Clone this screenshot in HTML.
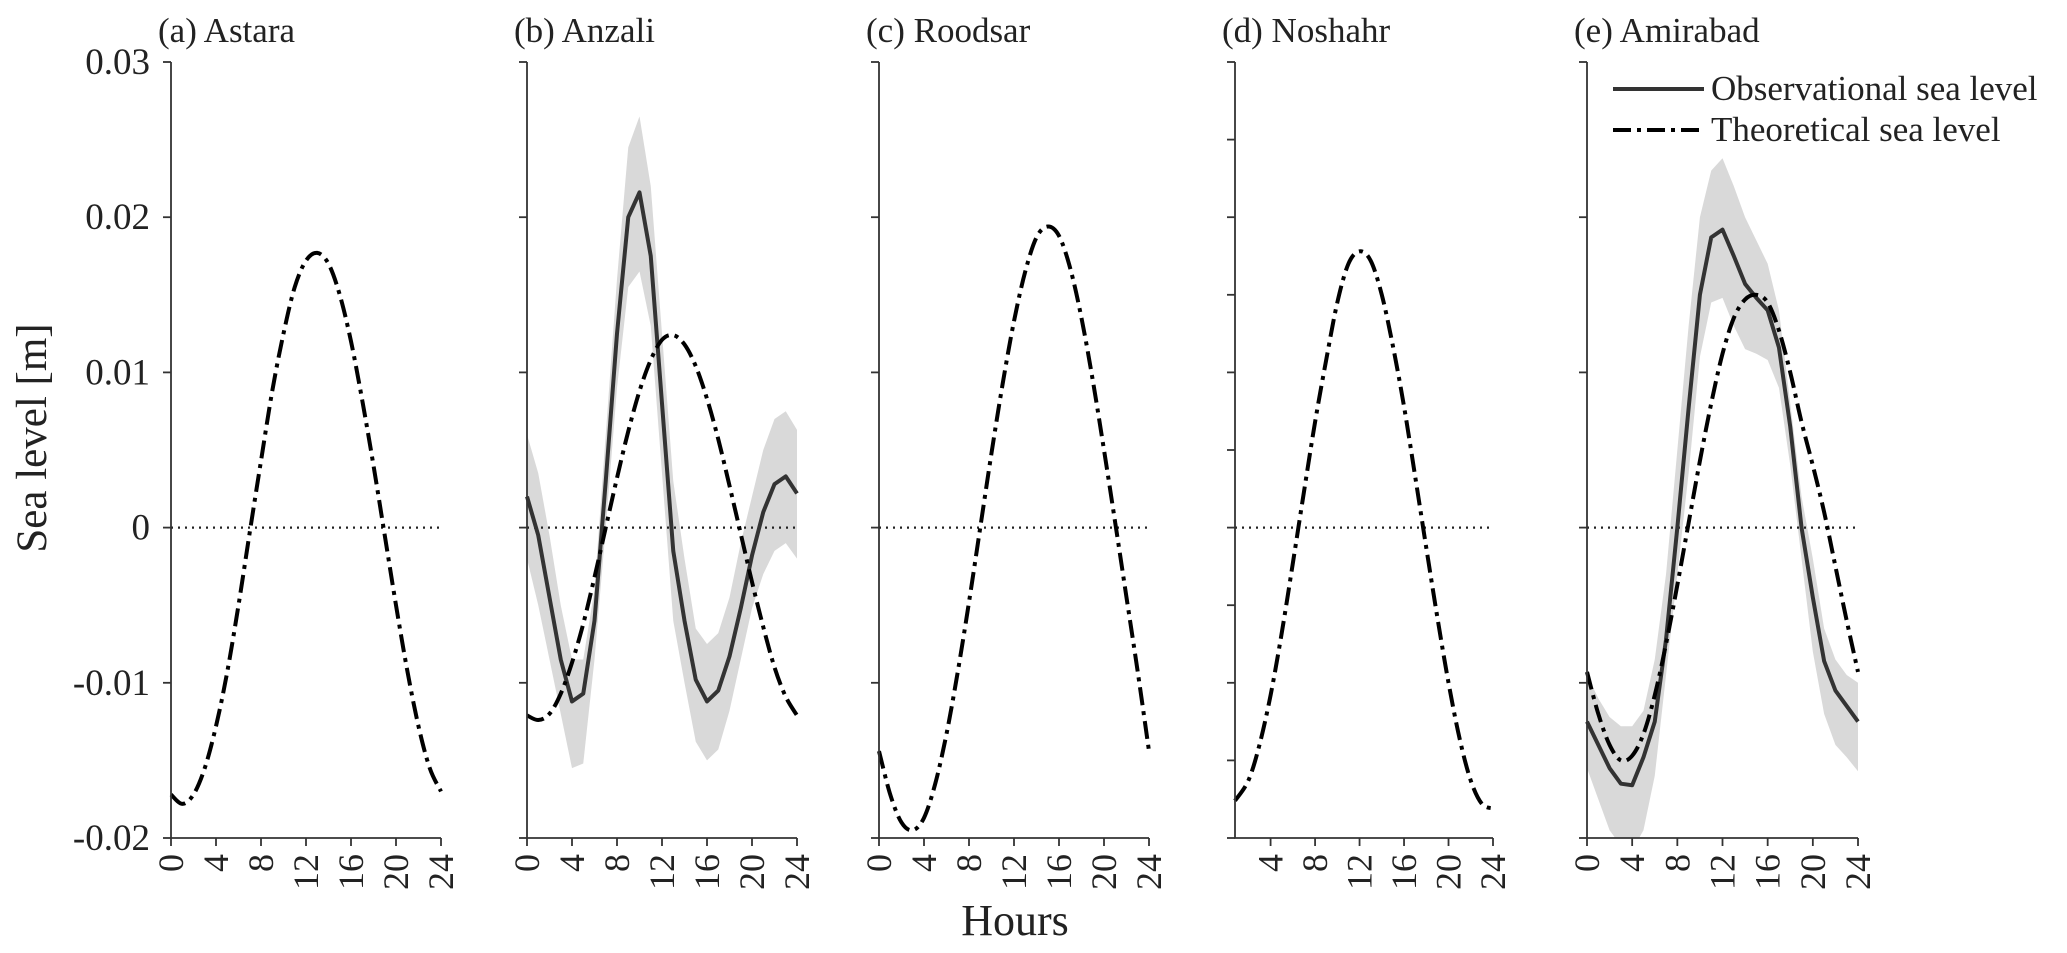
<!DOCTYPE html>
<html><head><meta charset="utf-8">
<style>
html,body{margin:0;padding:0;background:#fff;}
svg{display:block;font-family:"Liberation Serif",serif;}
</style></head>
<body>
<svg id="chart" width="2067" height="953" viewBox="0 0 2067 953" xmlns="http://www.w3.org/2000/svg">
<text x="0" y="0" transform="translate(46,438) rotate(-90)" text-anchor="middle" font-size="43" fill="#222">Sea level [m]</text>
<text x="1015" y="935" text-anchor="middle" font-size="44" fill="#222">Hours</text>
<g>
<line x1="1613" y1="89" x2="1704" y2="89" stroke="#333" stroke-width="4"/>
<text x="1711" y="100" font-size="35" fill="#222">Observational sea level</text>
<line x1="1613" y1="130" x2="1704" y2="130" stroke="#000" stroke-width="4" stroke-dasharray="18 6 4 6"/>
<text x="1711" y="141" font-size="35" fill="#222">Theoretical sea level</text>
</g>
</svg>
<script>
const hours = [0,1,2,3,4,5,6,7,8,9,10,11,12,13,14,15,16,17,18,19,20,21,22,23,24];
const hoursD = [0.8,2,3,4,5,6,7,8,9,10,11,12,13,14,15,16,17,18,19,20,21,22,23,24];
const yTicks = [0.03,0.02,0.01,0,-0.01,-0.02];
const yTickLabels = ["0.03","0.02","0.01","0","-0.01","-0.02"];
const yTicksD = [0.03,0.025,0.02,0.015,0.01,0.005,0,-0.005,-0.01,-0.015,-0.02];
const xTicks = [0,4,8,12,16,20,24];
const xTicksD = [4,8,12,16,20,24];
const titles = ["(a) Astara","(b) Anzali","(c) Roodsar","(d) Noshahr","(e) Amirabad"];
const theoA = [-0.0172,-0.0178,-0.0172,-0.0155,-0.0128,-0.0093,-0.0050,-0.0003,0.0043,0.0088,0.0125,0.0155,0.0172,0.0177,0.0170,0.0150,0.0120,0.0082,0.0040,-0.0005,-0.0050,-0.0092,-0.0128,-0.0155,-0.0170];
const theoB = [-0.0121,-0.0124,-0.0120,-0.0107,-0.0087,-0.0062,-0.0032,0.0000,0.0032,0.0062,0.0088,0.0108,0.0121,0.0124,0.0118,0.0104,0.0083,0.0057,0.0027,-0.0004,-0.0035,-0.0064,-0.0090,-0.0109,-0.0121];
const obsB = [0.002,-0.0005,-0.0045,-0.0085,-0.0112,-0.0107,-0.006,0.003,0.0125,0.0200,0.0216,0.0175,0.0080,-0.0015,-0.0060,-0.0098,-0.0112,-0.0105,-0.0083,-0.0052,-0.0018,0.0010,0.0028,0.0033,0.0022];
const upperB = [0.006,0.0035,-0.0005,-0.005,-0.0085,-0.0085,-0.004,0.006,0.016,0.0245,0.0265,0.022,0.0125,0.003,-0.002,-0.0065,-0.0075,-0.0068,-0.0045,-0.001,0.002,0.005,0.007,0.0075,0.0063];
const lowerB = [-0.002,-0.005,-0.0085,-0.012,-0.0155,-0.0152,-0.0085,0.0,0.009,0.0155,0.0165,0.013,0.0035,-0.006,-0.010,-0.0138,-0.015,-0.0143,-0.0118,-0.0085,-0.0052,-0.003,-0.0015,-0.001,-0.002];
const theoC = [-0.0144,-0.0172,-0.0190,-0.0195,-0.0187,-0.0165,-0.0133,-0.0093,-0.0048,0.0000,0.0048,0.0093,0.0133,0.0165,0.0187,0.0194,0.0188,0.0167,0.0135,0.0095,0.0050,0.0003,-0.0045,-0.0093,-0.0144];
const theoD = [-0.0176,-0.0163,-0.0140,-0.0108,-0.0068,-0.0023,0.0023,0.0068,0.0108,0.0145,0.0170,0.0178,0.0172,0.0150,0.0117,0.0078,0.0033,-0.0013,-0.0058,-0.0100,-0.0136,-0.0163,-0.0178,-0.0181];
const theoE = [-0.0093,-0.0120,-0.0140,-0.0150,-0.0147,-0.0133,-0.0108,-0.0075,-0.0037,0.0003,0.0043,0.0080,0.0112,0.0135,0.0147,0.0150,0.0145,0.0127,0.0100,0.0068,0.0040,0.0010,-0.0025,-0.0060,-0.0093];
const obsE = [-0.0125,-0.0140,-0.0155,-0.0165,-0.0166,-0.0148,-0.0125,-0.0072,0.0000,0.0077,0.0150,0.0187,0.0192,0.0175,0.0157,0.0148,0.0140,0.0116,0.0065,0.0000,-0.0045,-0.0086,-0.0105,-0.0115,-0.0125];
const upperE = [-0.0095,-0.0110,-0.0122,-0.0128,-0.0128,-0.0118,-0.0085,-0.0030,0.005,0.013,0.020,0.0230,0.0238,0.022,0.020,0.0185,0.0170,0.0140,0.0080,0.0020,-0.002,-0.0065,-0.0085,-0.0095,-0.0100];
const lowerE = [-0.0155,-0.0175,-0.0195,-0.0205,-0.0208,-0.0195,-0.0160,-0.0095,-0.0030,0.0035,0.0110,0.0145,0.0148,0.0130,0.0115,0.0112,0.0108,0.0090,0.0040,-0.0020,-0.0080,-0.0120,-0.0140,-0.0148,-0.0157];

const NS = "http://www.w3.org/2000/svg";
const svg = document.getElementById("chart");
const yTop = 62, yBot = 838, yMax = 0.03, yMin = -0.02;
const panels = [
 {x0:171,x1:441,xmin:0,theo:theoA,hx:hours,t:0},
 {x0:527,x1:797,xmin:0,theo:theoB,hx:hours,obs:obsB,up:upperB,lo:lowerB,t:1},
 {x0:879,x1:1149,xmin:0,theo:theoC,hx:hours,t:2},
 {x0:1235,x1:1493,xmin:0.8,theo:theoD,hx:hoursD,t:3,d:true},
 {x0:1587,x1:1858,xmin:0,theo:theoE,hx:hours,obs:obsE,up:upperE,lo:lowerE,t:4}
];
function el(tag, attrs, parent){const e=document.createElementNS(NS,tag);for(const k in attrs)e.setAttribute(k,attrs[k]);(parent||svg).appendChild(e);return e;}
function yS(v){return yBot-(v-yMin)/(yMax-yMin)*(yBot-yTop);}
function smooth(pts){let d="M"+pts[0][0]+","+pts[0][1];for(let i=0;i<pts.length-1;i++){const p0=pts[i-1]||pts[i],p1=pts[i],p2=pts[i+1],p3=pts[i+2]||p2;d+=" C"+(p1[0]+(p2[0]-p0[0])/6)+","+(p1[1]+(p2[1]-p0[1])/6)+" "+(p2[0]-(p3[0]-p1[0])/6)+","+(p2[1]-(p3[1]-p1[1])/6)+" "+p2[0]+","+p2[1];}return d;}
panels.forEach((p,pi)=>{
 const xS=h=>p.x0+(h-p.xmin)/(24-p.xmin)*(p.x1-p.x0);
 const g=el("g",{});
 
 
 const clipId="clip"+pi;
 const cp=el("clipPath",{id:clipId},g);el("rect",{x:p.x0,y:yTop,width:p.x1-p.x0+10,height:yBot-yTop},cp);
 const title=el("text",{x:p.x0-13,y:42,"font-size":35,fill:"#222"},g);
 title.textContent=titles[p.t];
 
 
 if(p.up){
  let pts=p.hx.map((h,i)=>xS(h)+","+yS(p.up[i]));
  for(let i=p.hx.length-1;i>=0;i--)pts.push(xS(p.hx[i])+","+yS(p.lo[i]));
  const band=el("polygon",{points:pts.join(" "),fill:"#d9d9d9","clip-path":"url(#"+clipId+")"},g);
  
  
 }
 const zl=el("line",{x1:xS(p.xmin),x2:xS(24),y1:yS(0),y2:yS(0),stroke:"#222","stroke-width":2.2,"stroke-dasharray":"2 5"},g);
 
 
 if(p.obs){
  const ol=el("polyline",{points:p.hx.map((h,i)=>xS(h)+","+yS(p.obs[i])).join(" "),fill:"none",stroke:"#333","stroke-width":4,"stroke-linejoin":"round"},g);
  
  
 }
 const tl=el("path",{d:smooth(p.hx.map((h,i)=>[xS(h),yS(p.theo[i])])),fill:"none",stroke:"#000","stroke-width":4,"stroke-dasharray":"18 6 4 6"},g);
 
 
 const ax=el("path",{d:"M"+p.x0+","+yTop+" V"+yBot+" H"+p.x1,fill:"none",stroke:"#333","stroke-width":1.8},g);
 
 
 (p.d?yTicksD:yTicks).forEach((v,i)=>{
  el("line",{x1:p.x0-8,x2:p.x0,y1:yS(v),y2:yS(v),stroke:"#333","stroke-width":1.8},g);
  if(pi===0){const t=el("text",{x:150,y:yS(v)+12,"text-anchor":"end","font-size":37,fill:"#222"},g);t.textContent=yTickLabels[i];
   
   }
 });
 (p.d?xTicksD:xTicks).forEach(h=>{
  const x=xS(h);
  el("line",{x1:x,x2:x,y1:yBot,y2:yBot+8,stroke:"#333","stroke-width":1.8},g);
  const t=el("text",{transform:"translate("+(x+12)+","+(yBot+16)+") rotate(-90)","text-anchor":"end","font-size":36,fill:"#222"},g);
  t.textContent=String(h);
  
  
 });
});
</script>
</body></html>
